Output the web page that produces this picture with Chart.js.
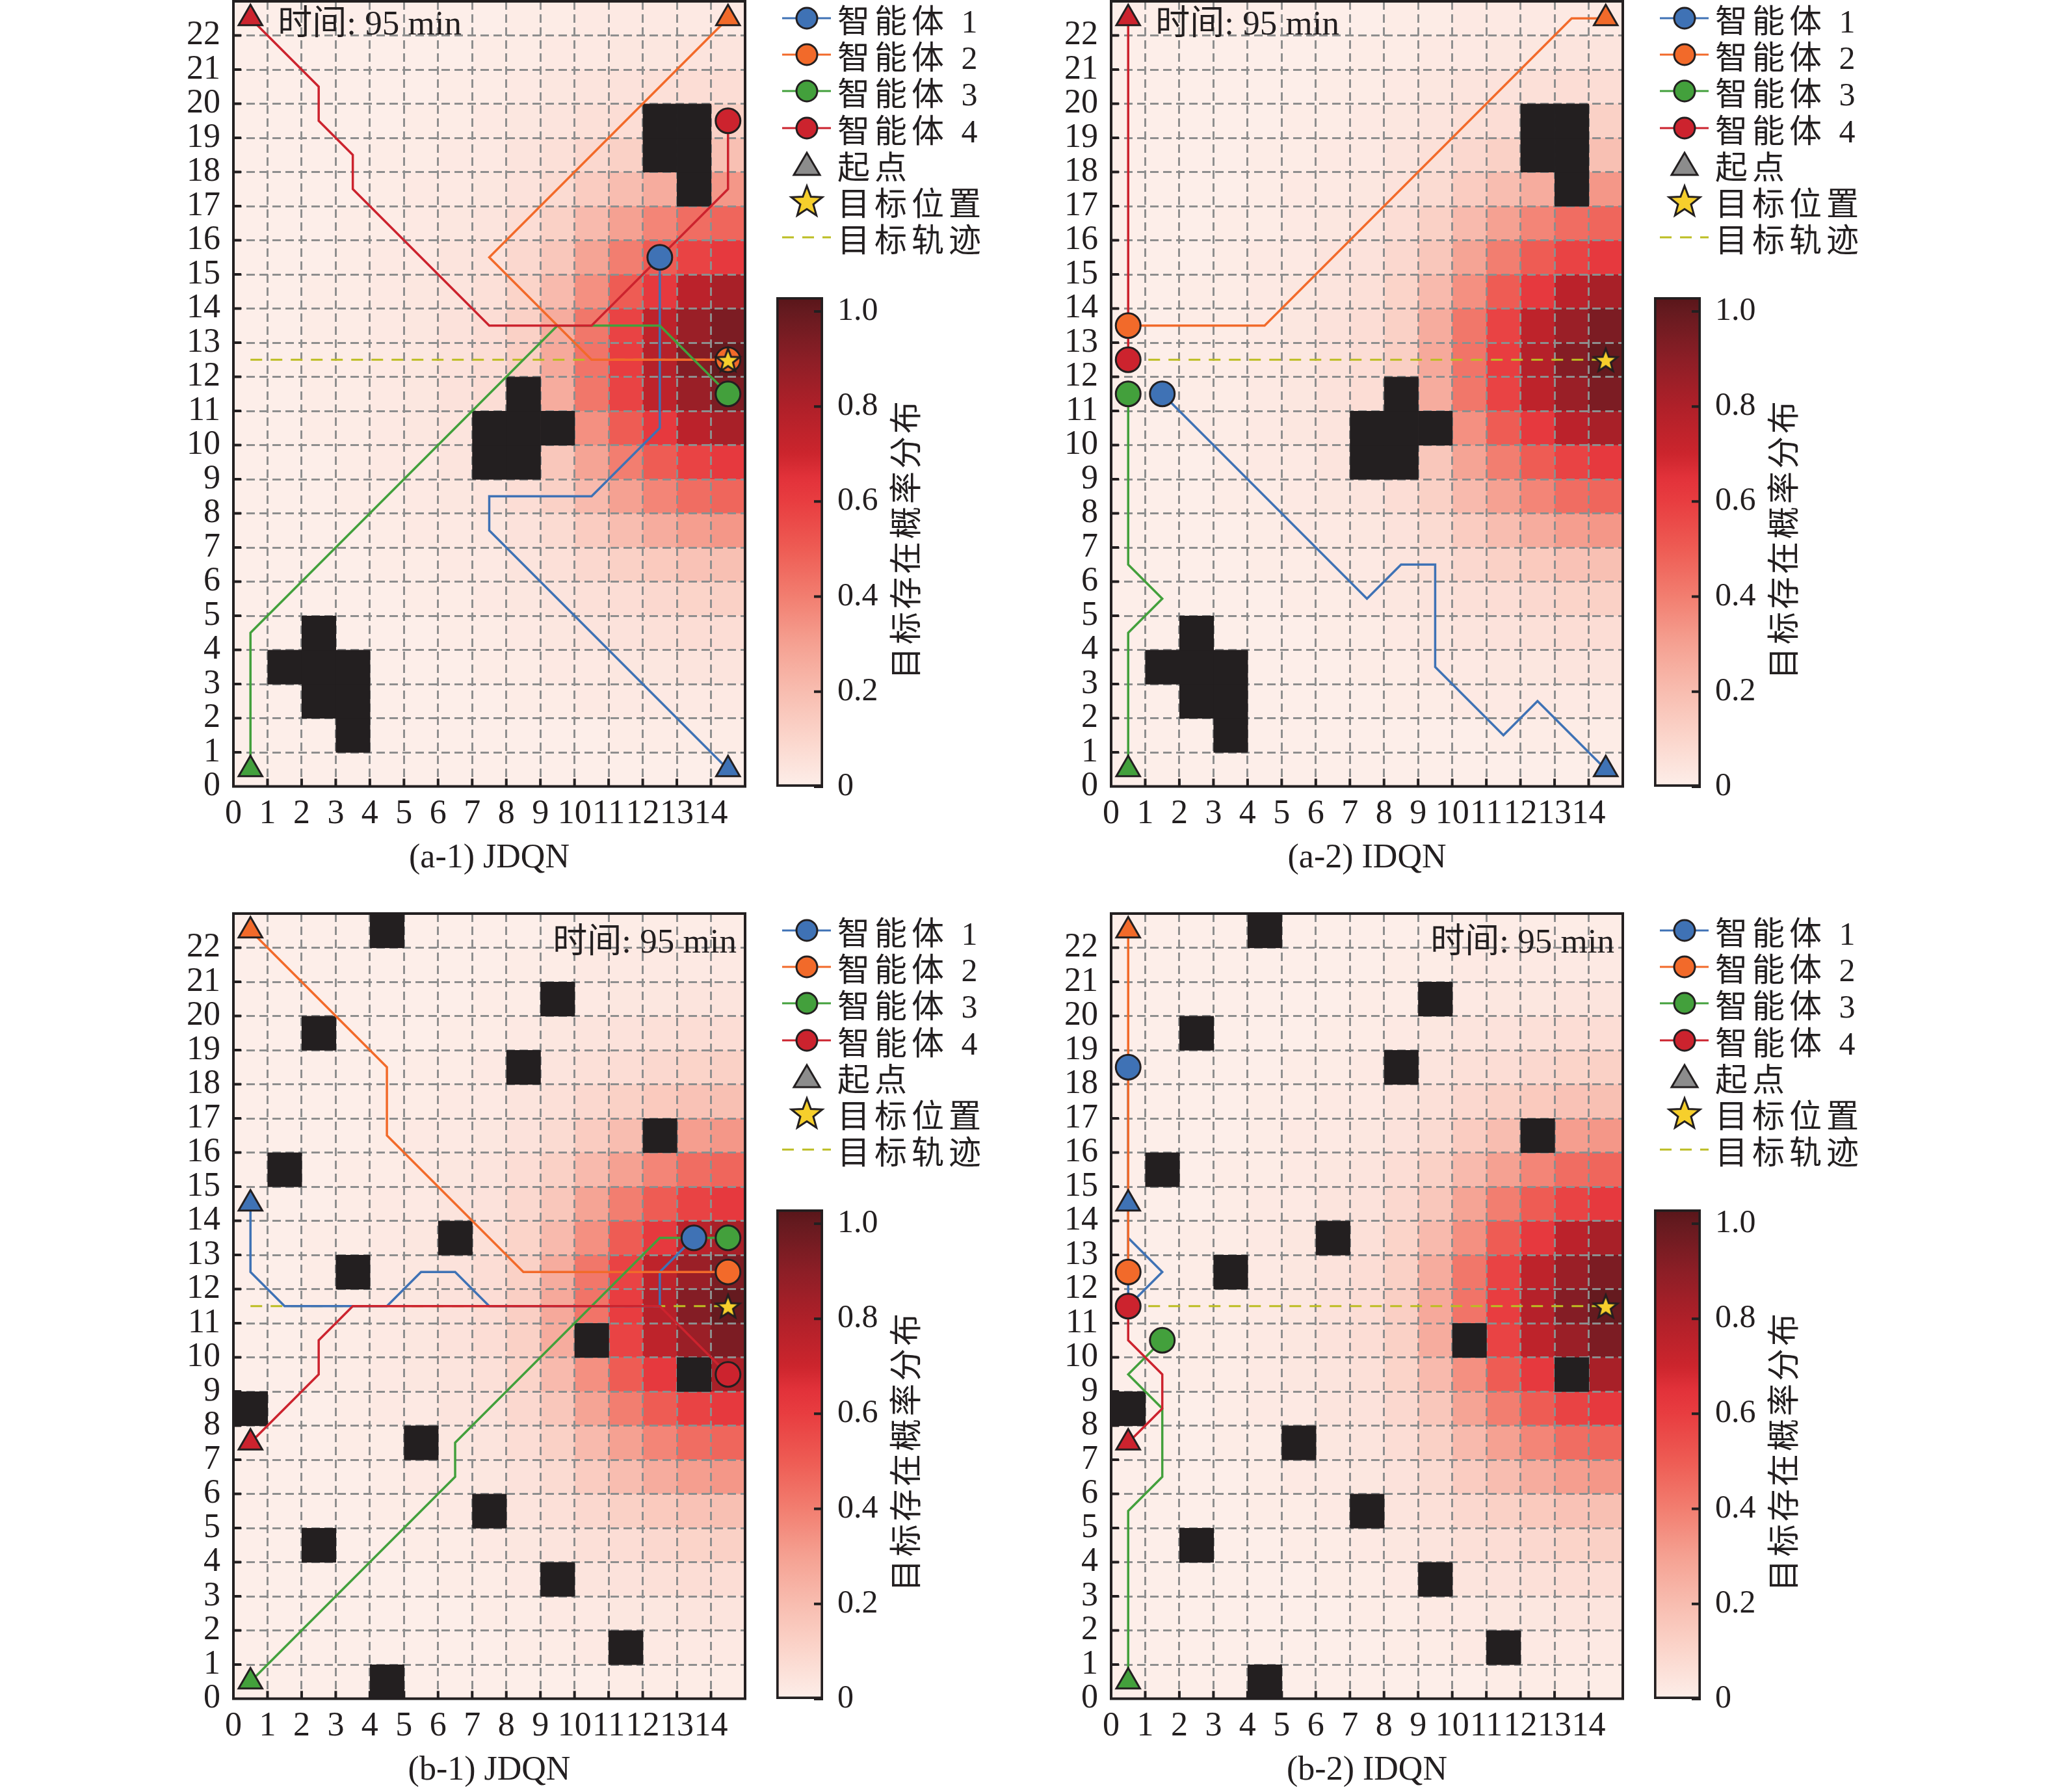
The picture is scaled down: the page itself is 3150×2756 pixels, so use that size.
<!DOCTYPE html>
<html>
<head>
<meta charset="utf-8">
<script src="https://cdn.jsdelivr.net/npm/chart.js@4.4.1/dist/chart.umd.min.js"></script>
<style>
  body { margin: 0; width: 3150px; height: 2756px; background: #fff; position: relative; overflow: hidden;
         font-family: 'Liberation Serif', 'Noto Sans CJK SC', serif; color: #231f20; }
  canvas { position: absolute; }
  .row { position: absolute; height: 56px; display: flex; align-items: center; white-space: nowrap; }
  .row span { font-size: 50px; letter-spacing: 7px; }
</style>
</head>
<body>
<script>
// tick labels
const xTickLabels = ['0','1','2','3','4','5','6','7','8','9','10','11','12','13','14'];
const yTickLabels = ['0','1','2','3','4','5','6','7','8','9','10','11','12','13','14','15','16','17','18','19','20','21','22'];
const cbTicks = [0, 0.2, 0.4, 0.6, 0.8, 1.0];
const cbTickLabels = ['0', '0.2', '0.4', '0.6', '0.8', '1.0'];

// legend
const agentNames = ['智能体 1', '智能体 2', '智能体 3', '智能体 4'];
const agentColors = ['#3f72b5', '#f26a2a', '#43a03c', '#cc232e'];
const extraNames = ['起点', '目标位置', '目标轨迹'];

// target probability (rows from y=22 at top down to y=0), target at row 12
const heatA = [
  [0,0,0,0,0,0,0,0,0.01,0.01,0.02,0.02,0.02,0.02,0.02],
  [0,0,0,0,0,0,0,0.01,0.01,0.02,0.02,0.03,0.03,0.04,0.04],
  [0,0,0,0,0,0,0.01,0.01,0.02,0.03,0.04,0.05,0.06,0.07,0.07],
  [0,0,0,0,0,0.01,0.01,0.02,0.03,0.04,0.06,0.07,0.09,0.11,0.12],
  [0,0,0,0,0.01,0.01,0.02,0.02,0.04,0.06,0.09,0.12,0.15,0.18,0.19],
  [0,0,0,0,0.01,0.02,0.02,0.03,0.05,0.08,0.14,0.20,0.26,0.31,0.33],
  [0,0,0,0.01,0.01,0.02,0.03,0.04,0.07,0.12,0.21,0.30,0.38,0.45,0.47],
  [0,0,0,0.01,0.02,0.02,0.04,0.05,0.09,0.16,0.29,0.40,0.50,0.58,0.62],
  [0,0,0.01,0.01,0.02,0.03,0.04,0.06,0.11,0.21,0.35,0.50,0.62,0.76,0.82],
  [0,0,0.01,0.01,0.02,0.03,0.05,0.07,0.12,0.26,0.42,0.58,0.75,0.86,0.94],
  [0,0,0.01,0.01,0.02,0.03,0.05,0.07,0.13,0.27,0.43,0.60,0.78,0.92,1.00],
  [0,0,0.01,0.01,0.02,0.03,0.05,0.07,0.12,0.26,0.42,0.58,0.75,0.86,0.94],
  [0,0,0.01,0.01,0.02,0.03,0.04,0.06,0.11,0.21,0.35,0.50,0.62,0.76,0.82],
  [0,0,0,0.01,0.02,0.02,0.04,0.05,0.09,0.16,0.29,0.40,0.50,0.58,0.62],
  [0,0,0,0.01,0.01,0.02,0.03,0.04,0.07,0.12,0.21,0.30,0.38,0.45,0.47],
  [0,0,0,0,0.01,0.02,0.02,0.03,0.05,0.08,0.14,0.20,0.26,0.31,0.33],
  [0,0,0,0,0.01,0.01,0.02,0.02,0.04,0.06,0.09,0.12,0.15,0.18,0.19],
  [0,0,0,0,0,0.01,0.01,0.02,0.03,0.04,0.06,0.07,0.09,0.11,0.12],
  [0,0,0,0,0,0,0.01,0.01,0.02,0.03,0.04,0.05,0.06,0.07,0.07],
  [0,0,0,0,0,0,0,0.01,0.01,0.02,0.02,0.03,0.03,0.04,0.04],
  [0,0,0,0,0,0,0,0,0.01,0.01,0.02,0.02,0.02,0.02,0.02],
  [0,0,0,0,0,0,0,0,0,0,0,0.01,0.01,0.01,0.01],
  [0,0,0,0,0,0,0,0,0,0,0,0,0,0,0]
];
// target at row 11
const heatB = [
  [0,0,0,0,0,0,0,0,0,0,0,0.01,0.01,0.01,0.01],
  [0,0,0,0,0,0,0,0,0.01,0.01,0.02,0.02,0.02,0.02,0.02],
  [0,0,0,0,0,0,0,0.01,0.01,0.02,0.02,0.03,0.03,0.04,0.04],
  [0,0,0,0,0,0,0.01,0.01,0.02,0.03,0.04,0.05,0.06,0.07,0.07],
  [0,0,0,0,0,0.01,0.01,0.02,0.03,0.04,0.06,0.07,0.09,0.11,0.12],
  [0,0,0,0,0.01,0.01,0.02,0.02,0.04,0.06,0.09,0.12,0.15,0.18,0.19],
  [0,0,0,0,0.01,0.02,0.02,0.03,0.05,0.08,0.14,0.20,0.26,0.31,0.33],
  [0,0,0,0.01,0.01,0.02,0.03,0.04,0.07,0.12,0.21,0.30,0.38,0.45,0.47],
  [0,0,0,0.01,0.02,0.02,0.04,0.05,0.09,0.16,0.29,0.40,0.50,0.58,0.62],
  [0,0,0.01,0.01,0.02,0.03,0.04,0.06,0.11,0.21,0.35,0.50,0.62,0.76,0.82],
  [0,0,0.01,0.01,0.02,0.03,0.05,0.07,0.12,0.26,0.42,0.58,0.75,0.86,0.94],
  [0,0,0.01,0.01,0.02,0.03,0.05,0.07,0.13,0.27,0.43,0.60,0.78,0.92,1.00],
  [0,0,0.01,0.01,0.02,0.03,0.05,0.07,0.12,0.26,0.42,0.58,0.75,0.86,0.94],
  [0,0,0.01,0.01,0.02,0.03,0.04,0.06,0.11,0.21,0.35,0.50,0.62,0.76,0.82],
  [0,0,0,0.01,0.02,0.02,0.04,0.05,0.09,0.16,0.29,0.40,0.50,0.58,0.62],
  [0,0,0,0.01,0.01,0.02,0.03,0.04,0.07,0.12,0.21,0.30,0.38,0.45,0.47],
  [0,0,0,0,0.01,0.02,0.02,0.03,0.05,0.08,0.14,0.20,0.26,0.31,0.33],
  [0,0,0,0,0.01,0.01,0.02,0.02,0.04,0.06,0.09,0.12,0.15,0.18,0.19],
  [0,0,0,0,0,0.01,0.01,0.02,0.03,0.04,0.06,0.07,0.09,0.11,0.12],
  [0,0,0,0,0,0,0.01,0.01,0.02,0.03,0.04,0.05,0.06,0.07,0.07],
  [0,0,0,0,0,0,0,0.01,0.01,0.02,0.02,0.03,0.03,0.04,0.04],
  [0,0,0,0,0,0,0,0,0.01,0.01,0.02,0.02,0.02,0.02,0.02],
  [0,0,0,0,0,0,0,0,0,0,0,0.01,0.01,0.01,0.01]
];

// obstacle cells [x, y] (lower-left corner)
const obstaclesA = [[1,3],[2,2],[2,3],[2,4],[3,1],[3,2],[3,3],[7,9],[7,10],[8,9],[8,10],[8,11],[9,10],[12,18],[12,19],[13,17],[13,18],[13,19]];
const obstaclesB = [[4,22],[9,20],[2,19],[8,18],[12,16],[1,15],[6,13],[3,12],[10,10],[13,9],[0,8],[5,7],[7,5],[2,4],[9,3],[11,1],[4,0]];

// target position and trajectory
const targetA = [14.5, 12.5];
const trackA = [[0.5, 12.5], [14.5, 12.5]];
const targetB = [14.5, 11.5];
const trackB = [[0.5, 11.5], [14.5, 11.5]];

// agent paths (first point = start, last point = current position)
const a1Agent1 = [[14.5,0.5],[7.5,7.5],[7.5,8.5],[10.5,8.5],[12.5,10.5],[12.5,15.5]];
const a1Agent2 = [[14.5,22.5],[7.5,15.5],[10.5,12.5],[14.5,12.5]];
const a1Agent3 = [[0.5,0.5],[0.5,4.5],[9.5,13.5],[12.5,13.5],[14.5,11.5]];
const a1Agent4 = [[0.5,22.5],[2.5,20.5],[2.5,19.5],[3.5,18.5],[3.5,17.5],[7.5,13.5],[10.5,13.5],[14.5,17.5],[14.5,19.5]];

const a2Agent1 = [[14.5,0.5],[12.5,2.5],[11.5,1.5],[9.5,3.5],[9.5,6.5],[8.5,6.5],[7.5,5.5],[1.5,11.5]];
const a2Agent2 = [[14.5,22.5],[13.5,22.5],[4.5,13.5],[0.5,13.5]];
const a2Agent3 = [[0.5,0.5],[0.5,4.5],[1.5,5.5],[0.5,6.5],[0.5,11.5]];
const a2Agent4 = [[0.5,22.5],[0.5,12.5]];

const b1Agent1 = [[0.5,14.5],[0.5,12.5],[1.5,11.5],[4.5,11.5],[5.5,12.5],[6.5,12.5],[7.5,11.5],[12.5,11.5],[12.5,12.5],[13.5,13.5]];
const b1Agent2 = [[0.5,22.5],[4.5,18.5],[4.5,16.5],[8.5,12.5],[14.5,12.5]];
const b1Agent3 = [[0.5,0.5],[6.5,6.5],[6.5,7.5],[12.5,13.5],[14.5,13.5]];
const b1Agent4 = [[0.5,7.5],[2.5,9.5],[2.5,10.5],[3.5,11.5],[12.5,11.5],[14.5,9.5]];

const b2Agent1 = [[0.5,14.5],[0.5,13.5],[1.5,12.5],[0.5,11.5],[0.5,18.5]];
const b2Agent2 = [[0.5,22.5],[0.5,12.5]];
const b2Agent3 = [[0.5,0.5],[0.5,5.5],[1.5,6.5],[1.5,8.5],[0.5,9.5],[1.5,10.5]];
const b2Agent4 = [[0.5,7.5],[1.5,8.5],[1.5,9.5],[0.5,10.5],[0.5,11.5]];

const timeText = '时间: 95 min';

// colour map of the probability
const cmapStops = [
  [0.00, '#fdeee9'], [0.10, '#fbd6cc'], [0.20, '#f8bdb0'], [0.30, '#f5a192'],
  [0.40, '#f27e70'], [0.50, '#ee5c54'], [0.60, '#e83d40'], [0.65, '#e2323a'],
  [0.70, '#cc252d'], [0.80, '#af2029'], [0.90, '#8c1e26'], [1.00, '#651a1f'], [1.03, '#581519']
];
const cbMin = 0, cbMax = 1.03;

const FONT = "'Liberation Serif', 'Noto Sans CJK SC', serif";
const INK = '#231f20';
const TRACK = '#bcbd22';

function hexRgb(h) {
  return [parseInt(h.slice(1, 3), 16), parseInt(h.slice(3, 5), 16), parseInt(h.slice(5, 7), 16)];
}
function cmap(v) {
  if (v <= cmapStops[0][0]) return cmapStops[0][1];
  for (let i = 1; i < cmapStops.length; i++) {
    if (v <= cmapStops[i][0]) {
      const t = (v - cmapStops[i - 1][0]) / (cmapStops[i][0] - cmapStops[i - 1][0]);
      const a = hexRgb(cmapStops[i - 1][1]), b = hexRgb(cmapStops[i][1]);
      return 'rgb(' + a.map((c, k) => Math.round(c + (b[k] - c) * t)).join(',') + ')';
    }
  }
  return cmapStops[cmapStops.length - 1][1];
}

// filled star used as a point style
function starImage(size, lw) {
  const c = document.createElement('canvas');
  c.width = c.height = size;
  const g = c.getContext('2d');
  const R = size / 2 - lw, r = R * 0.42, cx = size / 2, cy = size / 2 + R * 0.1;
  g.beginPath();
  for (let i = 0; i < 10; i++) {
    const rad = i % 2 ? r : R;
    const a = -Math.PI / 2 + i * Math.PI / 5;
    g.lineTo(cx + rad * Math.cos(a), cy + rad * Math.sin(a));
  }
  g.closePath();
  g.fillStyle = '#f6cf2c';
  g.fill();
  g.lineWidth = lw;
  g.strokeStyle = INK;
  g.stroke();
  return c;
}
const starImg = starImage(44, 3);

// no extra room for half labels at the scale ends
function noPad(s) {
  s.paddingTop = 0; s.paddingBottom = 0; s.paddingLeft = 0; s.paddingRight = 0;
}

// heatmap under the grid, obstacles over it, frame and inward ticks on top
const cellsPlugin = {
  id: 'cells',
  beforeDraw(chart, args, o) {
    const { ctx, scales: { x, y } } = chart;
    const n = o.heat.length;
    o.heat.forEach((row, r) => {
      const gy = n - 1 - r;
      row.forEach((v, c) => {
        const x0 = x.getPixelForValue(c), x1 = x.getPixelForValue(c + 1);
        const y0 = y.getPixelForValue(gy + 1), y1 = y.getPixelForValue(gy);
        ctx.fillStyle = cmap(v);
        ctx.fillRect(x0, y0, x1 - x0 + 0.6, y1 - y0 + 0.6);
      });
    });
  },
  beforeDatasetsDraw(chart, args, o) {
    const { ctx, scales: { x, y } } = chart;
    ctx.save();
    ctx.fillStyle = INK;
    o.obstacles.forEach(([cx, cy]) => {
      const x0 = x.getPixelForValue(cx), x1 = x.getPixelForValue(cx + 1);
      const y0 = y.getPixelForValue(cy + 1), y1 = y.getPixelForValue(cy);
      ctx.fillRect(x0, y0, x1 - x0 + 0.6, y1 - y0 + 0.6);
    });
    ctx.restore();
  },
  afterDatasetsDraw(chart, args, o) {
    const { ctx, scales: { x, y } } = chart;
    ctx.save();
    ctx.font = '53px ' + FONT;
    ctx.fillStyle = INK;
    ctx.textAlign = o.time.align;
    ctx.textBaseline = 'middle';
    ctx.fillText(timeText, x.getPixelForValue(o.time.x), y.getPixelForValue(o.time.y));
    ctx.restore();
  },
  afterDraw(chart) {
    const { ctx, chartArea: a, scales: { x, y } } = chart;
    ctx.save();
    ctx.strokeStyle = INK;
    ctx.lineWidth = 4;
    ctx.setLineDash([]);
    ctx.beginPath();
    for (let i = 1; i < 15; i++) {
      const px = x.getPixelForValue(i);
      ctx.moveTo(px, a.bottom);
      ctx.lineTo(px, a.bottom - 12);
    }
    for (let i = 1; i < 23; i++) {
      const py = y.getPixelForValue(i);
      ctx.moveTo(a.left, py);
      ctx.lineTo(a.left + 12, py);
    }
    ctx.stroke();
    ctx.strokeRect(a.left, a.top, a.right - a.left, a.bottom - a.top);
    ctx.restore();
  }
};

const PW = 787, PH = 1207.5;

function makePanel(p) {
  const W = 140 + PW + 12, H = 1352;
  const cv = document.createElement('canvas');
  cv.width = W; cv.height = H;
  cv.style.left = (p.left - 140) + 'px';
  cv.style.top = (p.top - 2) + 'px';
  document.body.appendChild(cv);

  const pts = arr => arr.map(q => ({ x: q[0], y: q[1] }));
  const datasets = [];
  datasets.push({ data: pts(p.track), showLine: true, borderColor: TRACK, borderWidth: 3,
                  borderDash: [18, 13], pointRadius: 0, order: 20 });
  p.paths.forEach((path, i) => {
    datasets.push({ data: pts(path), showLine: true, borderColor: agentColors[i], borderWidth: 3.5,
                    pointRadius: 0, order: 15 - i });
  });
  datasets.push({ data: pts(p.paths.map(path => path[0])), pointStyle: 'triangle', pointRadius: 21,
                  pointBackgroundColor: agentColors, pointBorderColor: INK, pointBorderWidth: 3, order: 5 });
  datasets.push({ data: pts(p.paths.map(path => path[path.length - 1])), pointStyle: 'circle', pointRadius: 19,
                  pointBackgroundColor: agentColors, pointBorderColor: INK, pointBorderWidth: 3, order: 4 });
  datasets.push({ data: pts([p.target]), pointStyle: starImg, pointRadius: 10, order: 1 });

  const tickFont = { family: FONT, size: 52 };
  new Chart(cv, {
    type: 'scatter',
    data: { datasets },
    options: {
      responsive: false, animation: false, devicePixelRatio: 1, events: [],
      layout: { autoPadding: false, padding: { left: 0, top: 2, right: 12, bottom: 0 } },
      plugins: {
        legend: { display: false }, tooltip: { enabled: false },
        cells: { heat: p.heat, obstacles: p.obstacles, time: p.time }
      },
      scales: {
        x: {
          type: 'linear', min: 0, max: 15,
          afterFit(s) { s.height = H - 2 - PH; noPad(s); },
          grid: { color: '#8e8e8e', lineWidth: 3, drawTicks: false },
          border: { display: false, dash: [13, 7] },
          ticks: { stepSize: 1, autoSkip: false, maxRotation: 0, minRotation: 0, padding: 12,
                   color: INK, font: tickFont, callback: v => xTickLabels[v] ?? '' },
          title: { display: true, text: p.caption, color: INK, font: tickFont, padding: 0 }
        },
        y: {
          type: 'linear', min: 0, max: 23,
          afterFit(s) { s.width = 140; noPad(s); },
          grid: { color: '#8e8e8e', lineWidth: 3, drawTicks: false },
          border: { display: false, dash: [13, 7] },
          ticks: { stepSize: 1, autoSkip: false, padding: 20, color: INK, font: tickFont,
                   callback: v => yTickLabels[v] ?? '' }
        }
      }
    },
    plugins: [cellsPlugin]
  });
}

const cbPlugin = {
  id: 'cbdeco',
  afterDatasetsDraw(chart) {
    const { ctx, chartArea: a, scales: { y } } = chart;
    ctx.save();
    ctx.strokeStyle = INK;
    ctx.lineWidth = 4;
    ctx.beginPath();
    cbTicks.forEach(v => {
      const py = y.getPixelForValue(v);
      ctx.moveTo(a.right - 14, py);
      ctx.lineTo(a.right, py);
    });
    ctx.stroke();
    ctx.translate(248, 389);
    ctx.rotate(-Math.PI / 2);
    ctx.font = '50px ' + FONT;
    ctx.letterSpacing = '4px';
    ctx.fillStyle = INK;
    ctx.textAlign = 'center';
    ctx.textBaseline = 'middle';
    ctx.fillText('目标存在概率分布', 0, 0);
    ctx.restore();
  }
};

function cbGradient(chart) {
  const { ctx, chartArea, scales } = chart;
  if (!chartArea) return '#fdeee9';
  const y0 = scales.y.getPixelForValue(cbMin), y1 = scales.y.getPixelForValue(cbMax);
  const g = ctx.createLinearGradient(0, y0, 0, y1);
  cmapStops.forEach(([v, c]) => g.addColorStop(Math.min(1, (v - cbMin) / (cbMax - cbMin)), c));
  return g;
}

function makeColorbar(left, top) {
  const W = 300, H = 790;
  const cv = document.createElement('canvas');
  cv.width = W; cv.height = H;
  cv.style.left = left + 'px';
  cv.style.top = top + 'px';
  document.body.appendChild(cv);
  new Chart(cv, {
    type: 'bar',
    data: { labels: ['p'], datasets: [{
      data: [[cbMin, cbMax]], backgroundColor: c => cbGradient(c.chart),
      borderColor: INK, borderWidth: 4, borderSkipped: false, barPercentage: 1, categoryPercentage: 1
    }] },
    options: {
      responsive: false, animation: false, devicePixelRatio: 1, events: [],
      layout: { autoPadding: false, padding: { left: 44, top: 17, right: 0, bottom: 20 } },
      plugins: { legend: { display: false }, tooltip: { enabled: false } },
      scales: {
        x: { display: false },
        y: {
          position: 'right', min: cbMin, max: cbMax,
          afterFit(s) { s.width = 184; noPad(s); },
          afterBuildTicks(s) { s.ticks = cbTicks.map(v => ({ value: v })); },
          grid: { display: false, drawTicks: false },
          border: { display: false },
          ticks: { padding: 22, color: INK, font: { family: FONT, size: 50 },
                   callback: (v, i) => cbTickLabels[i] }
        }
      }
    },
    plugins: [cbPlugin]
  });
}

function legendIcon(kind, color) {
  let s = '<svg width="92" height="56" viewBox="0 0 92 56" style="flex:none">';
  if (kind === 'agent') {
    s += `<line x1="7" y1="28" x2="82" y2="28" stroke="${color}" stroke-width="3"/>`;
    s += `<circle cx="45" cy="28" r="16" fill="${color}" stroke="${INK}" stroke-width="3"/>`;
  } else if (kind === 'start') {
    s += `<polygon points="45,10 25,44 65,44" fill="#8c8c8c" stroke="${INK}" stroke-width="3"/>`;
  } else if (kind === 'star') {
    const R = 25, r = 10.5, cx = 45, cy = 30;
    const p = [];
    for (let i = 0; i < 10; i++) {
      const rad = i % 2 ? r : R, a = -Math.PI / 2 + i * Math.PI / 5;
      p.push((cx + rad * Math.cos(a)).toFixed(1) + ',' + (cy + rad * Math.sin(a)).toFixed(1));
    }
    s += `<polygon points="${p.join(' ')}" fill="#f6cf2c" stroke="${INK}" stroke-width="3"/>`;
  } else {
    s += `<line x1="7" y1="28" x2="82" y2="28" stroke="${TRACK}" stroke-width="3" stroke-dasharray="18 13"/>`;
  }
  return s + '</svg>';
}

function makeLegend(left, top) {
  const items = agentNames.map((n, i) => ({ kind: 'agent', color: agentColors[i], text: n }))
    .concat([{ kind: 'start', text: extraNames[0] }, { kind: 'star', text: extraNames[1] },
             { kind: 'track', text: extraNames[2] }]);
  items.forEach((it, i) => {
    const d = document.createElement('div');
    d.className = 'row';
    d.style.left = left + 'px';
    d.style.top = (top + i * 56.2) + 'px';
    d.innerHTML = legendIcon(it.kind, it.color) + '<span>' + it.text + '</span>';
    document.body.appendChild(d);
  });
}

const panels = [
  { left: 359, top: 2, caption: '(a-1) JDQN', heat: heatA, obstacles: obstaclesA, track: trackA, target: targetA,
    paths: [a1Agent1, a1Agent2, a1Agent3, a1Agent4], time: { x: 1.3, y: 22.3, align: 'left' } },
  { left: 1709, top: 2, caption: '(a-2) IDQN', heat: heatA, obstacles: obstaclesA, track: trackA, target: targetA,
    paths: [a2Agent1, a2Agent2, a2Agent3, a2Agent4], time: { x: 1.3, y: 22.3, align: 'left' } },
  { left: 359, top: 1405, caption: '(b-1) JDQN', heat: heatB, obstacles: obstaclesB, track: trackB, target: targetB,
    paths: [b1Agent1, b1Agent2, b1Agent3, b1Agent4], time: { x: 14.75, y: 22.13, align: 'right' } },
  { left: 1709, top: 1405, caption: '(b-2) IDQN', heat: heatB, obstacles: obstaclesB, track: trackB, target: targetB,
    paths: [b2Agent1, b2Agent2, b2Agent3, b2Agent4], time: { x: 14.75, y: 22.13, align: 'right' } }
];

panels.forEach(p => {
  const dx = p.left - 359, dy = p.top - 2;
  makePanel(p);
  makeColorbar(1150 + dx, 440 + dy);
  makeLegend(1196 + dx, 0 + dy);
});
</script>
</body>
</html>
